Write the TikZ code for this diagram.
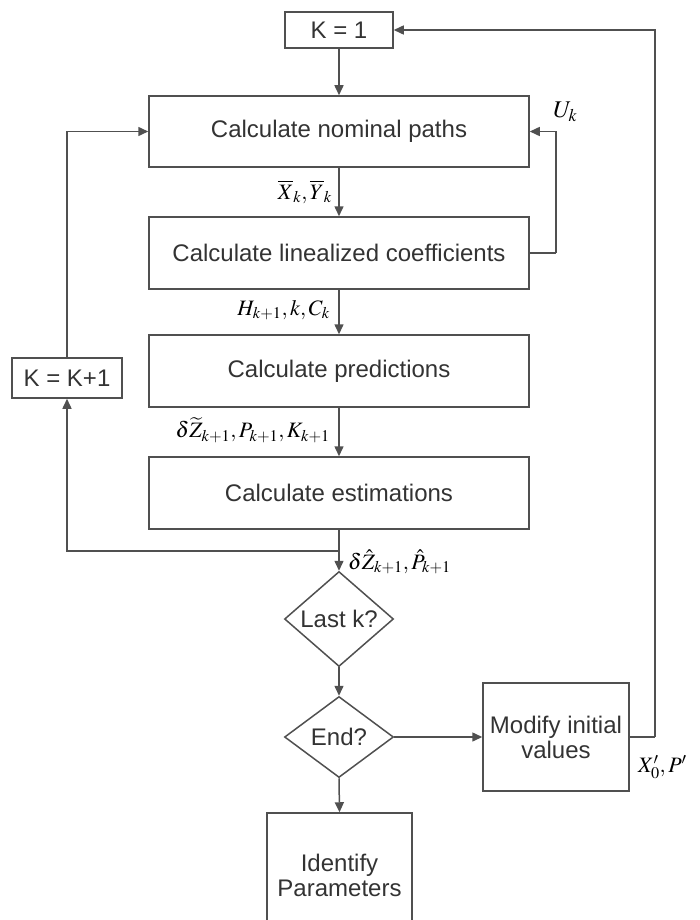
\documentclass[tikz,border=0pt]{standalone}
\usepackage{mathptmx}
\usepackage{fontspec}
\setmainfont{Liberation Sans}
\usetikzlibrary{arrows.meta,shapes.geometric}
\definecolor{linegray}{HTML}{505050}
\definecolor{textgray}{HTML}{333333}
\tikzset{
  box/.style={draw=linegray, line width=1.5pt, rectangle, inner sep=2pt,
    text=textgray, align=center, font=\fontsize{24}{28}\selectfont},
  decision/.style={draw=linegray, line width=1.5pt, diamond, inner sep=0pt,
    minimum width=109pt, minimum height=81pt, text=textgray,
    font=\fontsize{24}{28}\selectfont},
  flow/.style={draw=linegray, line width=1.5pt, -{Triangle[length=10pt,width=9pt]}},
  wire/.style={draw=linegray, line width=1.5pt},
  lbl/.style={font=\fontsize{22}{26}\selectfont, inner sep=1pt}
}
\begin{document}
\begin{tikzpicture}[x=1pt,y=-1pt]
\useasboundingbox (0,0) rectangle (700,920);
\clip (0,0) rectangle (700,920);

% process boxes
\node[box, minimum width=108pt, minimum height=36pt] (k1) at (339,30) {K = 1};
\node[box, minimum width=380pt, minimum height=71pt] (nom) at (339,131.5) {Calculate nominal paths};
\node[box, minimum width=380pt, minimum height=72pt] (lin) at (339,253) {Calculate linealized coefficients};
\node[box, minimum width=380pt, minimum height=72pt] (pred) at (339,371) {Calculate predictions};
\node[box, minimum width=380pt, minimum height=72pt] (est) at (339,493) {Calculate estimations};
\node[box, minimum width=110pt, minimum height=40pt] (kk) at (67,378) {K = K+1};
\node[decision] (last) at (339,619) {Last k?};
\node[decision] (endq) at (339,737) {End?};
\node[box, minimum width=146pt, minimum height=108pt] (mod) at (556,737) {Modify initial\\[-3pt]values};
\node[box, minimum width=145pt, minimum height=124pt] (idf) at (339.5,875) {Identify\\[-3pt]Parameters};

% main downward flow
\draw[flow] (k1.south) -- (nom.north);
\draw[flow] (nom.south) -- (lin.north);
\draw[flow] (lin.south) -- (pred.north);
\draw[flow] (pred.south) -- (est.north);
\draw[flow] (est.south) -- (last.north);
\draw[flow] (last.south) -- (endq.north);
\draw[flow] (endq.south) -- (idf.north);

% inner loop over k
\coordinate (br) at (339,551);
\draw[flow] (br) -| (kk.south);
\draw[flow] (kk.north) |- (nom.west);

% U_k feedback
\coordinate (uk) at (556,253);
\draw[wire] (lin.east) -- (uk);
\draw[flow] (uk) |- (nom.east);

% outer iteration
\draw[flow] (endq.east) -- (mod.west);
\coordinate (ret) at (655,737);
\draw[wire] (mod.east) -- (ret);
\draw[flow] (ret) |- (k1.east);

% signal labels
\node[lbl, anchor=east] (lx) at (333,192) {$\overline{X}_{k},\overline{Y}_{k}$};
\node[lbl, anchor=east] (lh) at (331,310) {$H_{k+1},k,C_{k}$};
\node[lbl, anchor=east] (lz) at (331,430) {$\delta\widetilde{Z}_{k+1},P_{k+1},K_{k+1}$};
\node[lbl, anchor=west] (lzh) at (347,562) {$\delta\hat{Z}_{k+1},\hat{P}_{k+1}$};
\node[lbl, anchor=west, font=\fontsize{24}{28}\selectfont] (lu) at (552,112) {$U_{k}$};
\node[lbl, anchor=west] (lp) at (637,767) {$X'_{0},P'$};
\end{tikzpicture}
\end{document}
